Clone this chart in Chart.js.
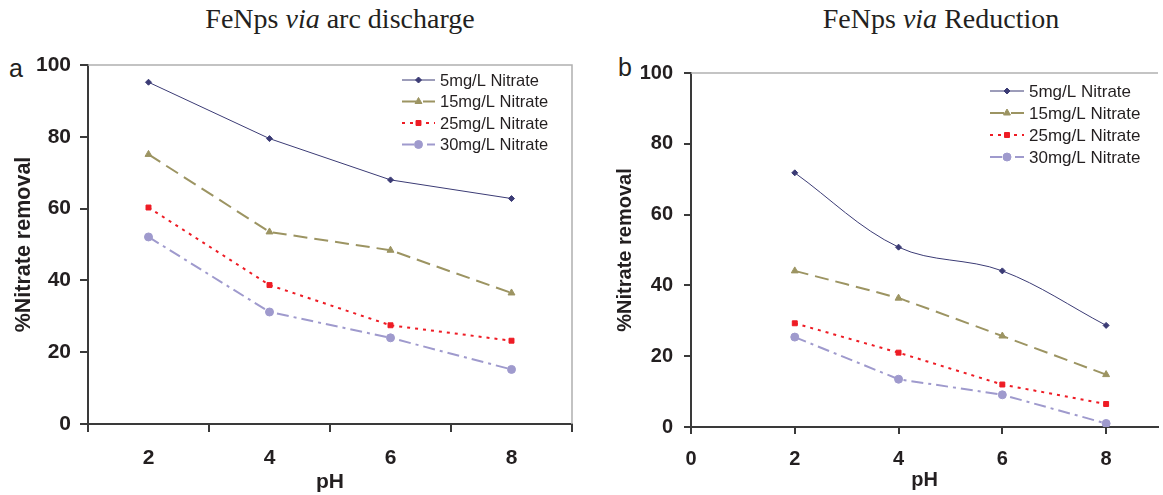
<!DOCTYPE html>
<html>
<head>
<meta charset="utf-8">
<script src="https://cdn.jsdelivr.net/npm/chart.js@4.4.0/dist/chart.umd.min.js"></script>
<style>
  body { margin: 0; background: #fff; width: 1163px; height: 495px; position: relative; overflow: hidden; }
  .box { position: absolute; top: 0; height: 495px; }
  #boxA { left: 0; width: 580px; }
  #boxB { left: 580px; width: 583px; }
  .title { position: absolute; top: 5px; font-family: "Liberation Serif", serif; font-size: 28px; line-height: 1; color: #231f20; white-space: nowrap; transform: translateX(-50%); }
  .panel { position: absolute; font-family: "Liberation Sans", Arial, sans-serif; font-size: 25px; line-height: 1; color: #231f20; }
</style>
</head>
<body>
<div class="title" style="left:340px">FeNps <i>via</i> arc discharge</div>
<div class="title" style="left:941px">FeNps <i>via</i> Reduction</div>
<div class="panel" style="left:9px;top:56px">a</div>
<div class="panel" style="left:618px;top:55px">b</div>
<div class="box" id="boxA"><canvas id="chartA" width="580" height="495"></canvas></div>
<div class="box" id="boxB"><canvas id="chartB" width="583" height="495"></canvas></div>
<script>
// pH values and series
const phValues = [2, 4, 6, 8];
const phLabels = ['2', '4', '6', '8'];
const seriesNames = ['5mg/L Nitrate', '15mg/L Nitrate', '25mg/L Nitrate', '30mg/L Nitrate'];

// (a) FeNps via arc discharge
const arc5 = [95.2, 79.5, 68.0, 62.8];
const arc15 = [75.1, 53.5, 48.4, 36.5];
const arc25 = [60.3, 38.7, 27.5, 23.2];
const arc30 = [52.1, 31.2, 24.0, 15.2];

// (b) FeNps via reduction
const red5 = [71.8, 50.8, 44.1, 28.7];
const red15 = [44.1, 36.4, 25.7, 14.8];
const red25 = [29.3, 21.0, 12.0, 6.5];
const red30 = [25.4, 13.5, 9.1, 1.0];

const yTicks = [0, 20, 40, 60, 80, 100];

const styles = [
  { color: '#3b3b75', dash: [], width: 1, point: 'rectRot', radius: 3 },
  { color: '#9c9462', dash: [14, 7], width: 2, point: 'triangle', radius: 4 },
  { color: '#ee1c25', dash: [3, 5], width: 2, point: 'rect', radius: 3.5 },
  { color: '#9f9acd', dash: [12, 5, 3, 5], width: 2, point: 'circle', radius: 4 }
];

function makeSets(values, xy, tensions) {
  return values.map((vals, i) => {
    const s = styles[i];
    return {
      label: seriesNames[i],
      data: xy ? vals.map((v, j) => ({ x: phValues[j], y: v })) : vals,
      borderColor: s.color,
      backgroundColor: s.color,
      borderWidth: s.width,
      borderDash: s.dash,
      pointStyle: s.point,
      pointRadius: s.radius,
      pointBackgroundColor: s.color,
      pointBorderColor: s.color,
      pointBorderWidth: 1,
      tension: tensions ? tensions[i] : 0,
      fill: false
    };
  });
}

// gray frame + inside legend
const framePlugin = {
  id: 'frame',
  beforeDatasetsDraw(chart, args, opts) {
    const { ctx, chartArea: a } = chart;
    ctx.save();
    ctx.strokeStyle = '#b0b0b0';
    ctx.lineWidth = 1.5;
    ctx.beginPath();
    ctx.moveTo(a.left, a.top);
    ctx.lineTo(a.right, a.top);
    if (opts.rightEdge) ctx.lineTo(a.right, a.bottom);
    ctx.stroke();
    ctx.restore();
  },
  afterDraw(chart, args, opts) {
    const ctx = chart.ctx;
    const lg = opts.legend;
    ctx.save();
    chart.data.datasets.forEach((ds, i) => {
      const y = lg.y + i * lg.gap;
      ctx.strokeStyle = ds.borderColor;
      ctx.lineWidth = ds.borderWidth;
      ctx.setLineDash(ds.borderDash);
      ctx.beginPath();
      ctx.moveTo(lg.x, y);
      ctx.lineTo(lg.x + lg.len, y);
      ctx.stroke();
      ctx.setLineDash([]);
      ctx.fillStyle = ds.pointBackgroundColor;
      ctx.strokeStyle = ds.pointBorderColor;
      ctx.lineWidth = 1;
      Chart.helpers.drawPoint(ctx, { pointStyle: ds.pointStyle, radius: ds.pointRadius, rotation: 0, borderWidth: 1 }, lg.x + lg.len / 2, y);
      ctx.fillStyle = '#231f20';
      ctx.font = lg.font + 'px "Liberation Sans", Arial, sans-serif';
      ctx.textBaseline = 'middle';
      ctx.fillText(ds.label, lg.x + lg.len + 5, y + 1);
    });
    ctx.restore();
  }
};

const fam = '"Liberation Sans", Arial, sans-serif';
const axisColor = '#3a3a3a';

function yScale(width, titlePad, tickSize, tickLen, tickPad, titleSize) {
  return {
    min: 0, max: 100,
    afterFit(s) { s.width = width; },
    afterBuildTicks(s) { s.ticks = yTicks.map(v => ({ value: v })); },
    grid: { drawOnChartArea: false, tickLength: tickLen, color: axisColor, lineWidth: 2 },
    border: { color: axisColor, width: 2 },
    ticks: { color: '#231f20', font: { family: fam, size: tickSize, weight: 'bold' }, padding: tickPad },
    title: { display: true, text: '%Nitrate removal', color: '#231f20',
      font: { family: fam, size: titleSize, weight: 'bold', lineHeight: 1.2 },
      padding: { top: titlePad, bottom: 0 } }
  };
}

function xTitle(size, pad) {
  return { display: true, text: 'pH', color: '#231f20',
    font: { family: fam, size: size, weight: 'bold', lineHeight: 1.2 },
    padding: { top: 0, bottom: pad } };
}

new Chart(document.getElementById('chartA'), {
  type: 'line',
  data: { labels: phLabels, datasets: makeSets([arc5, arc15, arc25, arc30], false) },
  options: {
    responsive: false, animation: false, devicePixelRatio: 1,
    layout: { padding: { top: 65, right: 8, left: 0, bottom: 0 } },
    plugins: {
      legend: { display: false }, tooltip: { enabled: false },
      frame: { rightEdge: true, legend: { x: 402, y: 80, gap: 21.5, len: 33, font: 16.5 } }
    },
    scales: {
      x: {
        type: 'category', offset: true,
        afterFit(s) { s.height = 71; },
        grid: { offset: true, drawOnChartArea: false, tickLength: 8, color: axisColor, lineWidth: 2 },
        border: { color: axisColor, width: 2 },
        ticks: { color: '#231f20', font: { family: fam, size: 21, weight: 'bold' }, padding: 14 },
        title: xTitle(21, 0)
      },
      y: yScale(88, 11, 21, 8, 9, 21.5)
    }
  },
  plugins: [framePlugin]
});

new Chart(document.getElementById('chartB'), {
  type: 'line',
  data: { datasets: makeSets([red5, red15, red25, red30], true, [0.35, 0.1, 0, 0]) },
  options: {
    responsive: false, animation: false, devicePixelRatio: 1,
    layout: { padding: { top: 73, right: 0, left: 0, bottom: 0 } },
    plugins: {
      legend: { display: false }, tooltip: { enabled: false },
      frame: { rightEdge: false, legend: { x: 410, y: 91, gap: 22, len: 34, font: 17 } }
    },
    scales: {
      x: {
        type: 'linear', min: 0, max: 9,
        afterFit(s) { s.height = 68; },
        grid: { drawOnChartArea: false, tickLength: 7, color: axisColor, lineWidth: 2 },
        border: { color: axisColor, width: 2 },
        ticks: { color: '#231f20', font: { family: fam, size: 20, weight: 'bold' }, padding: 13, stepSize: 2, includeBounds: false },
        title: xTitle(20, 3)
      },
      y: yScale(111, 33, 20, 7, 11, 20)
    }
  },
  plugins: [framePlugin]
});
</script>
</body>
</html>
